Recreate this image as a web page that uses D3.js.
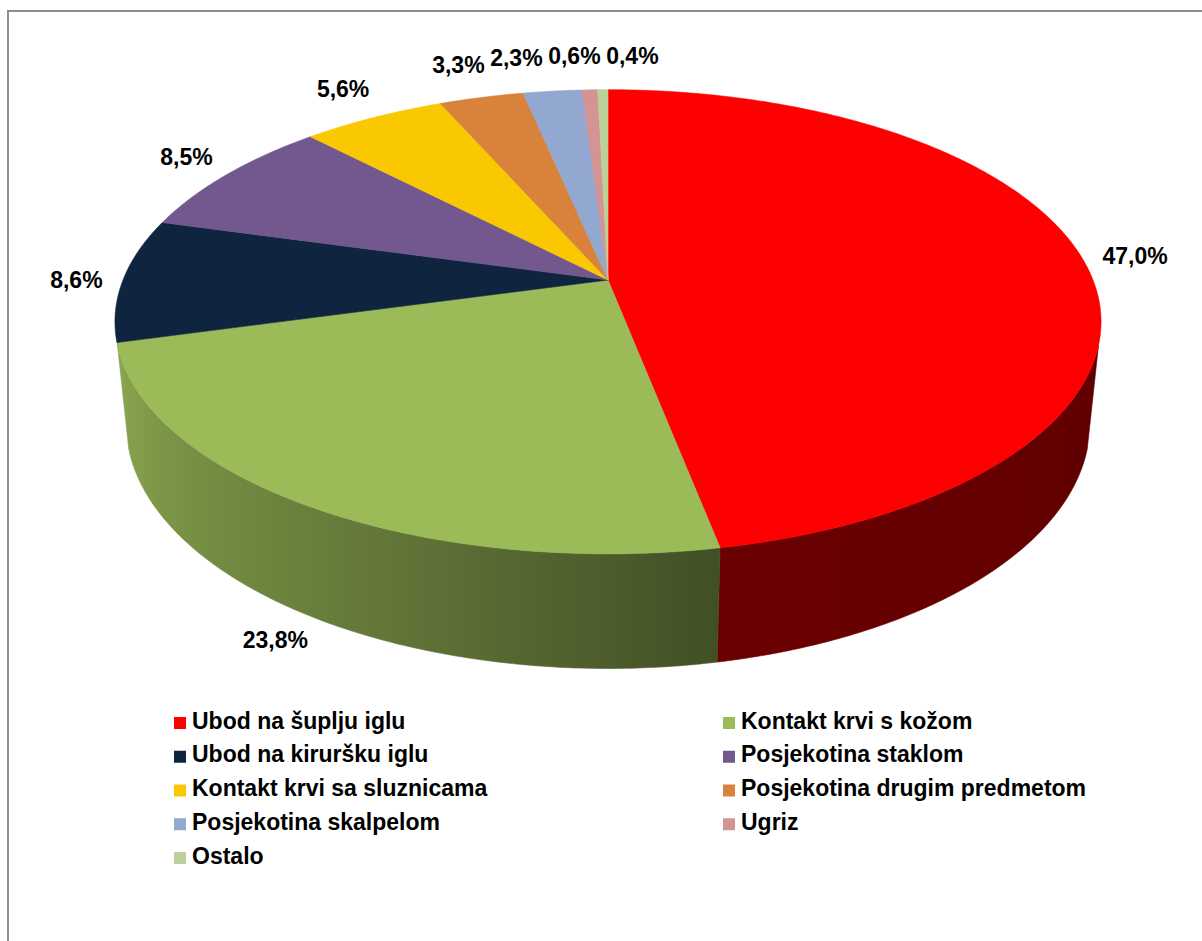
<!DOCTYPE html>
<html>
<head>
<meta charset="utf-8">
<script src="https://cdn.jsdelivr.net/npm/d3@7"></script>
<style>
  body{ margin:0; background:#fff; font-family:"Liberation Sans", Arial, sans-serif; }
</style>
</head>
<body>
<div id="chart"></div>
<script>
// data
var categories = ["Ubod na šuplju iglu", "Kontakt krvi s kožom", "Ubod na kiruršku iglu", "Posjekotina staklom",
  "Kontakt krvi sa sluznicama", "Posjekotina drugim predmetom", "Posjekotina skalpelom", "Ugriz", "Ostalo"]
var values = [47.0, 23.8, 8.6, 8.5, 5.6, 3.3, 2.3, 0.6, 0.4]
var colors = ["#ff0000", "#9bbb59", "#0f243e", "#72588e", "#fac800", "#d9823b", "#92a8d0", "#d49494", "#bcd19a"]

var W = 1202, H = 941
var svg = d3.select("#chart").append("svg").attr("width", W).attr("height", H)

// frame
svg.append("rect").attr("x", 8).attr("y", 11).attr("width", W + 20).attr("height", H + 20)
  .attr("fill", "none").attr("stroke", "#8c8c8c").attr("stroke-width", 2)

// 3d projection of the pie (perspective view)
var cx = 608, cy = 280
var k = 0.203                 // radius / camera distance
var Dist = 1 / k
var phi = Math.asin(0.463)    // elevation
var focal = 485 * Dist
var depth = 0.239             // thickness in radius units

function project(theta, r, level){
  var X = r * Math.sin(theta), Z = r * Math.cos(theta), Y = level
  var yc = Z * Math.sin(phi) + Y * Math.cos(phi)
  var zc = Dist + Z * Math.cos(phi) - Y * Math.sin(phi)
  return [cx + focal * X / zc, cy - focal * yc / zc]
}

var pie = d3.pie().sort(null).value(function(d){ return d })
var arcs = pie(values)

function shade(c, f){
  var rgb = d3.rgb(c)
  return d3.rgb(rgb.r * f, rgb.g * f, rgb.b * f).formatHex()
}
// light factor of the side wall, by angle
var light = d3.scaleLinear().domain([Math.PI / 2, Math.PI * 169 / 180, Math.PI * 200 / 180, Math.PI * 255 / 180, Math.PI * 1.5])
  .range([0.36, 0.42, 0.62, 0.9, 0.92]).clamp(true)

var defs = svg.append("defs")
var silo = Math.acos(-0.275)   // visible part of the side wall
var frontA = silo, frontB = 2 * Math.PI - silo
var line = d3.line()

// side walls
arcs.forEach(function(a, i){
  var s = Math.max(a.startAngle, frontA), e = Math.min(a.endAngle, frontB)
  if(e - s < 0.01) return
  var n = Math.max(2, Math.ceil((e - s) / 0.01))
  var top = [], bot = []
  for(var j = 0; j <= n; j++){
    var t = s + (e - s) * j / n
    top.push(project(t, 1, 0))
    bot.push(project(t, 1, -depth))
  }
  var x1 = top[0][0], x2 = top[n][0]
  var g = defs.append("linearGradient").attr("id", "wall" + i)
    .attr("gradientUnits", "userSpaceOnUse").attr("x1", x1).attr("x2", x2).attr("y1", 0).attr("y2", 0)
  for(var j = 0; j <= 10; j++){
    var t = s + (e - s) * j / 10
    var off = (project(t, 1, 0)[0] - x1) / (x2 - x1)
    g.append("stop").attr("offset", Math.max(0, Math.min(1, off))).attr("stop-color", shade(colors[i], light(t)))
  }
  svg.append("path").attr("d", line(top.concat(bot.reverse())) + "Z")
    .attr("fill", "url(#wall" + i + ")").attr("stroke", "url(#wall" + i + ")").attr("stroke-width", 0.6)
})

// top faces
arcs.forEach(function(a, i){
  var n = Math.max(2, Math.ceil((a.endAngle - a.startAngle) / 0.01))
  var pts = [project(0, 0, 0)]
  for(var j = 0; j <= n; j++){
    pts.push(project(a.startAngle + (a.endAngle - a.startAngle) * j / n, 1, 0))
  }
  svg.append("path").attr("d", line(pts) + "Z")
    .attr("fill", colors[i]).attr("stroke", colors[i]).attr("stroke-width", 0.6)
})

// data labels
var fmt = function(v){ return d3.format(".1f")(v).replace(".", ",") + "%" }
var lbl = svg.selectAll(".lbl").data(arcs).enter().append("text")
  .attr("class", "lbl")
  .attr("text-anchor", "middle").attr("dominant-baseline", "central")
  .attr("font-size", 23).attr("font-weight", "bold").attr("fill", "#000")
  .text(function(d, i){ return fmt(values[i]) })

var labels = []
lbl.each(function(a, i){
  var mid = (a.startAngle + a.endAngle) / 2
  var c = Math.cos(mid), s = Math.sin(mid)
  var w = this.getComputedTextLength()
  var p = project(mid, 1.03, c < 0 ? -depth : 0)
  var x = p[0] + Math.sign(s) * Math.sqrt(Math.abs(s)) * (w / 2 + 6)
  var y = p[1] - c * (c > 0 ? 29 : 17)
  labels.push({node: this, x: x, x0: x, y: y, c: c, w: w})
})
// spread crowded labels at the back of the pie
var back = labels.filter(function(d){ return d.c > 0.7 }).sort(function(a, b){ return a.x0 - b.x0 })
var gap = 58, pad = 6
var clusters = back.map(function(d){ return [d] })
var moved = true
while(moved){
  moved = false
  clusters.forEach(function(cl){
    var m = d3.mean(cl, function(d){ return d.x0 })
    cl.forEach(function(d, j){ d.x = m + (j - (cl.length - 1) / 2) * gap })
  })
  for(var j = 0; j < clusters.length - 1; j++){
    var a = clusters[j], b = clusters[j + 1]
    var l = a[a.length - 1], r = b[0]
    if((r.x - r.w / 2) - (l.x + l.w / 2) < pad){
      clusters.splice(j, 2, a.concat(b))
      moved = true
      break
    }
  }
}
labels.forEach(function(d){
  d3.select(d.node).attr("x", d.x).attr("y", d.y)
})

// legend
var colX = d3.scalePoint().domain([0, 1]).range([174, 723])
var rowY = d3.scaleLinear().domain([0, 4]).range([717, 852])
var leg = svg.selectAll(".leg").data(categories).enter().append("g")
  .attr("class", "leg")
  .attr("transform", function(d, i){ return "translate(" + colX(i % 2) + "," + rowY(Math.floor(i / 2)) + ")" })
leg.append("rect").attr("width", 12).attr("height", 12).attr("fill", function(d, i){ return colors[i] })
leg.append("text").attr("x", 18).attr("y", 11.5)
  .attr("font-size", 23).attr("font-weight", "bold").attr("fill", "#000")
  .text(function(d){ return d })
</script>
</body>
</html>
